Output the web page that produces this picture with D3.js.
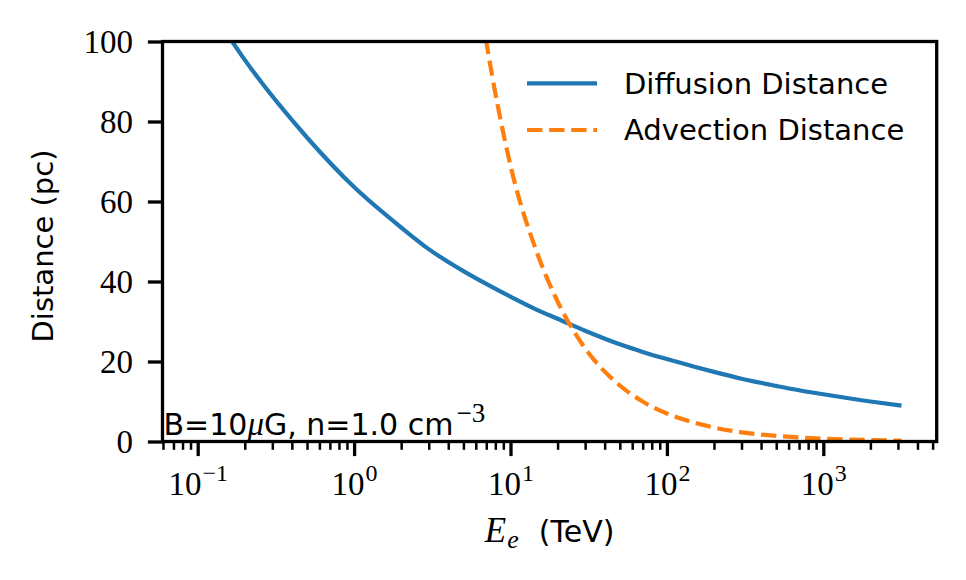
<!DOCTYPE html>
<html>
<head>
<meta charset="utf-8">
<script src="https://cdn.jsdelivr.net/npm/d3@7"></script>
<style>
  html, body { margin: 0; padding: 0; background: #fff; }
  svg { display: block; }
</style>
</head>
<body>
<div id="chart"></div>
<script>
// Electron energy grid (TeV)
const energy = [0.1, 0.2, 0.5, 1, 2, 3, 5, 7, 10, 15, 20, 30, 50, 70, 100, 150, 200, 300, 500, 700, 1000, 2000, 3162];

// Diffusion distance (pc)
const diffusion = [113.4, 95.4, 76.0, 63.6, 53.5, 48.1, 42.6, 39.4, 36.2, 32.8, 30.7, 27.7, 24.3, 22.4, 20.6, 18.7, 17.4, 15.7, 13.9, 12.8, 11.8, 10.0, 8.95];

// Advection distance (pc)
const advection = [7000, 3500, 1400, 700, 350, 233, 140, 100, 69, 46.5, 35, 23.3, 14, 10, 7, 4.7, 3.5, 2.3, 1.4, 1.0, 0.7, 0.35, 0.22];

const seriesNames = ["Diffusion Distance", "Advection Distance"];
const yTicks = [0, 20, 40, 60, 80, 100];
const xMajor = [0.1, 1, 10, 100, 1000];
const xExponents = ["\u22121", "0", "1", "2", "3"];
const annotation = "B=10\u03bcG, n=1.0 cm\u22123";

(function() {
    const W = 966, H = 580;
    const margin = {top: 41.5, right: 29.3, bottom: 138.5, left: 162.5};
    const width = W - margin.left - margin.right;
    const height = H - margin.top - margin.bottom;

    const serif = "'Liberation Serif', 'DejaVu Serif', serif";
    const sans = "'DejaVu Sans', sans-serif";
    const blue = "#1f77b4", orange = "#ff7f0e";

    const svg = d3.select("#chart").append("svg")
        .attr("width", W)
        .attr("height", H);

    const g = svg.append("g")
        .attr("transform", "translate(" + margin.left + "," + margin.top + ")");

    // log x with matplotlib-like 5% margins
    const x = d3.scaleLog().domain([Math.pow(10, -1.225), Math.pow(10, 3.725)]).range([0, width]);
    const y = d3.scaleLinear().domain([0, 100]).range([height, 0]);

    // minor ticks 2..9 in each decade inside the domain
    const minor = [];
    for (let e = -2; e <= 3; e++) {
        for (let m = 2; m <= 9; m++) {
            const v = m * Math.pow(10, e);
            if (v >= x.domain()[0] && v <= x.domain()[1]) minor.push(v);
        }
    }

    svg.append("defs").append("clipPath").attr("id", "plotclip")
        .append("rect").attr("width", width).attr("height", height);

    // lines
    const line = (vals) => d3.line()
        .x((d, i) => x(energy[i]))
        .y(d => y(d))
        .curve(d3.curveMonotoneX)(vals);

    const plot = g.append("g").attr("clip-path", "url(#plotclip)");
    plot.append("path")
        .attr("d", line(diffusion))
        .attr("fill", "none")
        .attr("stroke", blue)
        .attr("stroke-width", 4.2);

    plot.append("path")
        .attr("d", line(advection))
        .attr("fill", "none")
        .attr("stroke", orange)
        .attr("stroke-width", 4.2)
        .attr("stroke-dasharray", "15.4,6.7");

    // x minor ticks
    const xMinorAxis = g.append("g")
        .attr("transform", "translate(0," + height + ")")
        .call(d3.axisBottom(x).tickValues(minor).tickSize(8.3).tickFormat(""));
    xMinorAxis.select(".domain").remove();
    xMinorAxis.selectAll("line").attr("stroke-width", 2.5);

    // x major ticks with 10^n labels
    const xAxis = g.append("g")
        .attr("transform", "translate(0," + height + ")")
        .call(d3.axisBottom(x).tickValues(xMajor).tickSize(14.6).tickPadding(15).tickFormat(""));
    xAxis.select(".domain").remove();
    xAxis.selectAll("line").attr("stroke-width", 3.3);
    xAxis.selectAll("text").each(function(d, i) {
        const t = d3.select(this)
            .attr("font-family", serif)
            .attr("font-size", 33)
            .attr("fill", "#000");
        t.append("tspan").text("10");
        t.append("tspan").attr("dx", 1).attr("dy", -14).attr("font-size", 24).text(xExponents[i]);
    });

    // y axis
    const yAxis = g.append("g")
        .call(d3.axisLeft(y).tickValues(yTicks).tickSize(14.6).tickPadding(15));
    yAxis.select(".domain").remove();
    yAxis.selectAll("line").attr("stroke-width", 3.3);
    yAxis.selectAll("text")
        .attr("font-family", serif)
        .attr("font-size", 33)
        .attr("fill", "#000");

    // frame
    g.append("rect")
        .attr("width", width)
        .attr("height", height)
        .attr("fill", "none")
        .attr("stroke", "#000")
        .attr("stroke-width", 3.3);

    // axis labels
    const xl = svg.append("text")
        .attr("x", margin.left + width / 2)
        .attr("y", 541.7)
        .attr("text-anchor", "middle")
        .attr("fill", "#000");
    xl.append("tspan").attr("font-family", serif).attr("font-style", "italic").attr("font-size", 35).text("E");
    xl.append("tspan").attr("font-family", serif).attr("font-style", "italic").attr("font-size", 26).attr("dx", 1).attr("dy", 6).text("e");
    xl.append("tspan").attr("font-family", sans).attr("font-size", 30).attr("dx", 20).attr("dy", -6).text("(TeV)");

    svg.append("text")
        .attr("transform", "translate(53,246) rotate(-90)")
        .attr("text-anchor", "middle")
        .attr("font-family", sans)
        .attr("font-size", 29)
        .attr("fill", "#000")
        .text("Distance (pc)");

    // annotation in lower left corner
    const parts = annotation.split("\u03bc");
    const ann = g.append("text")
        .attr("x", 1)
        .attr("y", height - 6.5)
        .attr("font-family", sans)
        .attr("font-size", 30)
        .attr("fill", "#000");
    ann.append("tspan").text(parts[0]);
    ann.append("tspan").attr("font-family", serif).attr("font-style", "italic").attr("font-size", 33).text("\u03bc");
    const rest = parts[1].split("\u2212");
    ann.append("tspan").text(rest[0]);
    ann.append("tspan").attr("dx", 3).attr("dy", -13).attr("font-family", serif).attr("font-size", 27).text("\u2212" + rest[1]);

    // legend
    const legend = svg.append("g")
        .selectAll("g")
        .data(seriesNames)
        .enter().append("g")
        .attr("transform", function(d, i) { return "translate(527," + (83.3 + i * 46.7) + ")"; });

    legend.append("line")
        .attr("x1", 0)
        .attr("x2", 70)
        .attr("stroke", function(d, i) { return i === 0 ? blue : orange; })
        .attr("stroke-width", 4.2)
        .attr("stroke-dasharray", function(d, i) { return i === 0 ? null : "15.4,6.7"; });

    legend.append("text")
        .attr("x", 97)
        .attr("dy", "0.36em")
        .attr("font-family", sans)
        .attr("font-size", 29)
        .attr("fill", "#000")
        .text(d => d);
})();
</script>
</body>
</html>
